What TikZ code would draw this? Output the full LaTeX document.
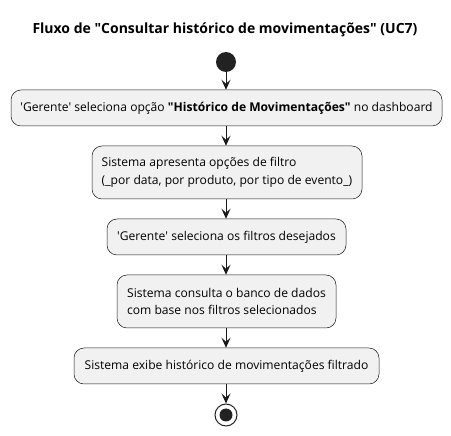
\documentclass[tikz,border=0pt]{standalone}
\usepackage{fontspec}
\setmainfont{Open Sans}
\usetikzlibrary{arrows.meta}
\definecolor{boxfill}{HTML}{F1F1F1}
\definecolor{boxline}{HTML}{181818}
\definecolor{startfill}{HTML}{222222}
\newcommand{\dq}{\textquotedbl}
\newcommand{\sq}{\textquotesingle}
\begin{document}
\begin{tikzpicture}[x=1pt,y=-1pt,
  act/.style={draw=boxline,fill=boxfill,line width=0.5pt,rounded corners=10pt,inner sep=0pt,
    font=\fontsize{12.1}{17.5}\selectfont,text=black},
  flow/.style={draw=boxline,line width=1pt,-{Stealth[length=10pt,width=9pt,inset=4pt]}}
]
\useasboundingbox (0,0) rectangle (451,436);
\node[font=\bfseries\fontsize{14}{16}\selectfont] (title) at (225,30) {Fluxo de \dq Consultar histórico de movimentações\dq{} (UC7)};
\node[circle,fill=startfill,minimum size=20pt,inner sep=0pt] (start) at (226,62) {};
\node[act,minimum width=431pt,minimum height=36pt] (a1) at (226.5,108)
  {\sq Gerente\sq{} seleciona opção \textbf{\dq Histórico de Movimentações\dq} no dashboard};
\node[act,minimum width=270pt,minimum height=53pt,align=left] (a2) at (227,172.5)
  {Sistema apresenta opções de filtro\\(\_por data, por produto, por tipo de evento\_)};
\node[act,minimum width=239pt,minimum height=36pt] (a3) at (226.5,237)
  {\sq Gerente\sq{} seleciona os filtros desejados};
\node[act,minimum width=219pt,minimum height=53pt,align=left] (a4) at (226.5,301.5)
  {Sistema consulta o banco de dados\\com base nos filtros selecionados};
\node[act,minimum width=305pt,minimum height=36pt] (a5) at (226.5,366)
  {Sistema exibe histórico de movimentações filtrado};
\node[circle,draw=startfill,line width=1pt,fill=white,minimum size=22pt,inner sep=0pt] (stop) at (226,415) {};
\node[circle,fill=startfill,minimum size=13pt,inner sep=0pt] at (stop) {};
\draw[flow] (start) -- (start |- a1.north);
\draw[flow] (a1.south -| start) -- (start |- a2.north);
\draw[flow] (a2.south -| start) -- (start |- a3.north);
\draw[flow] (a3.south -| start) -- (start |- a4.north);
\draw[flow] (a4.south -| start) -- (start |- a5.north);
\draw[flow] (a5.south -| start) -- (stop);
\end{tikzpicture}
\end{document}
